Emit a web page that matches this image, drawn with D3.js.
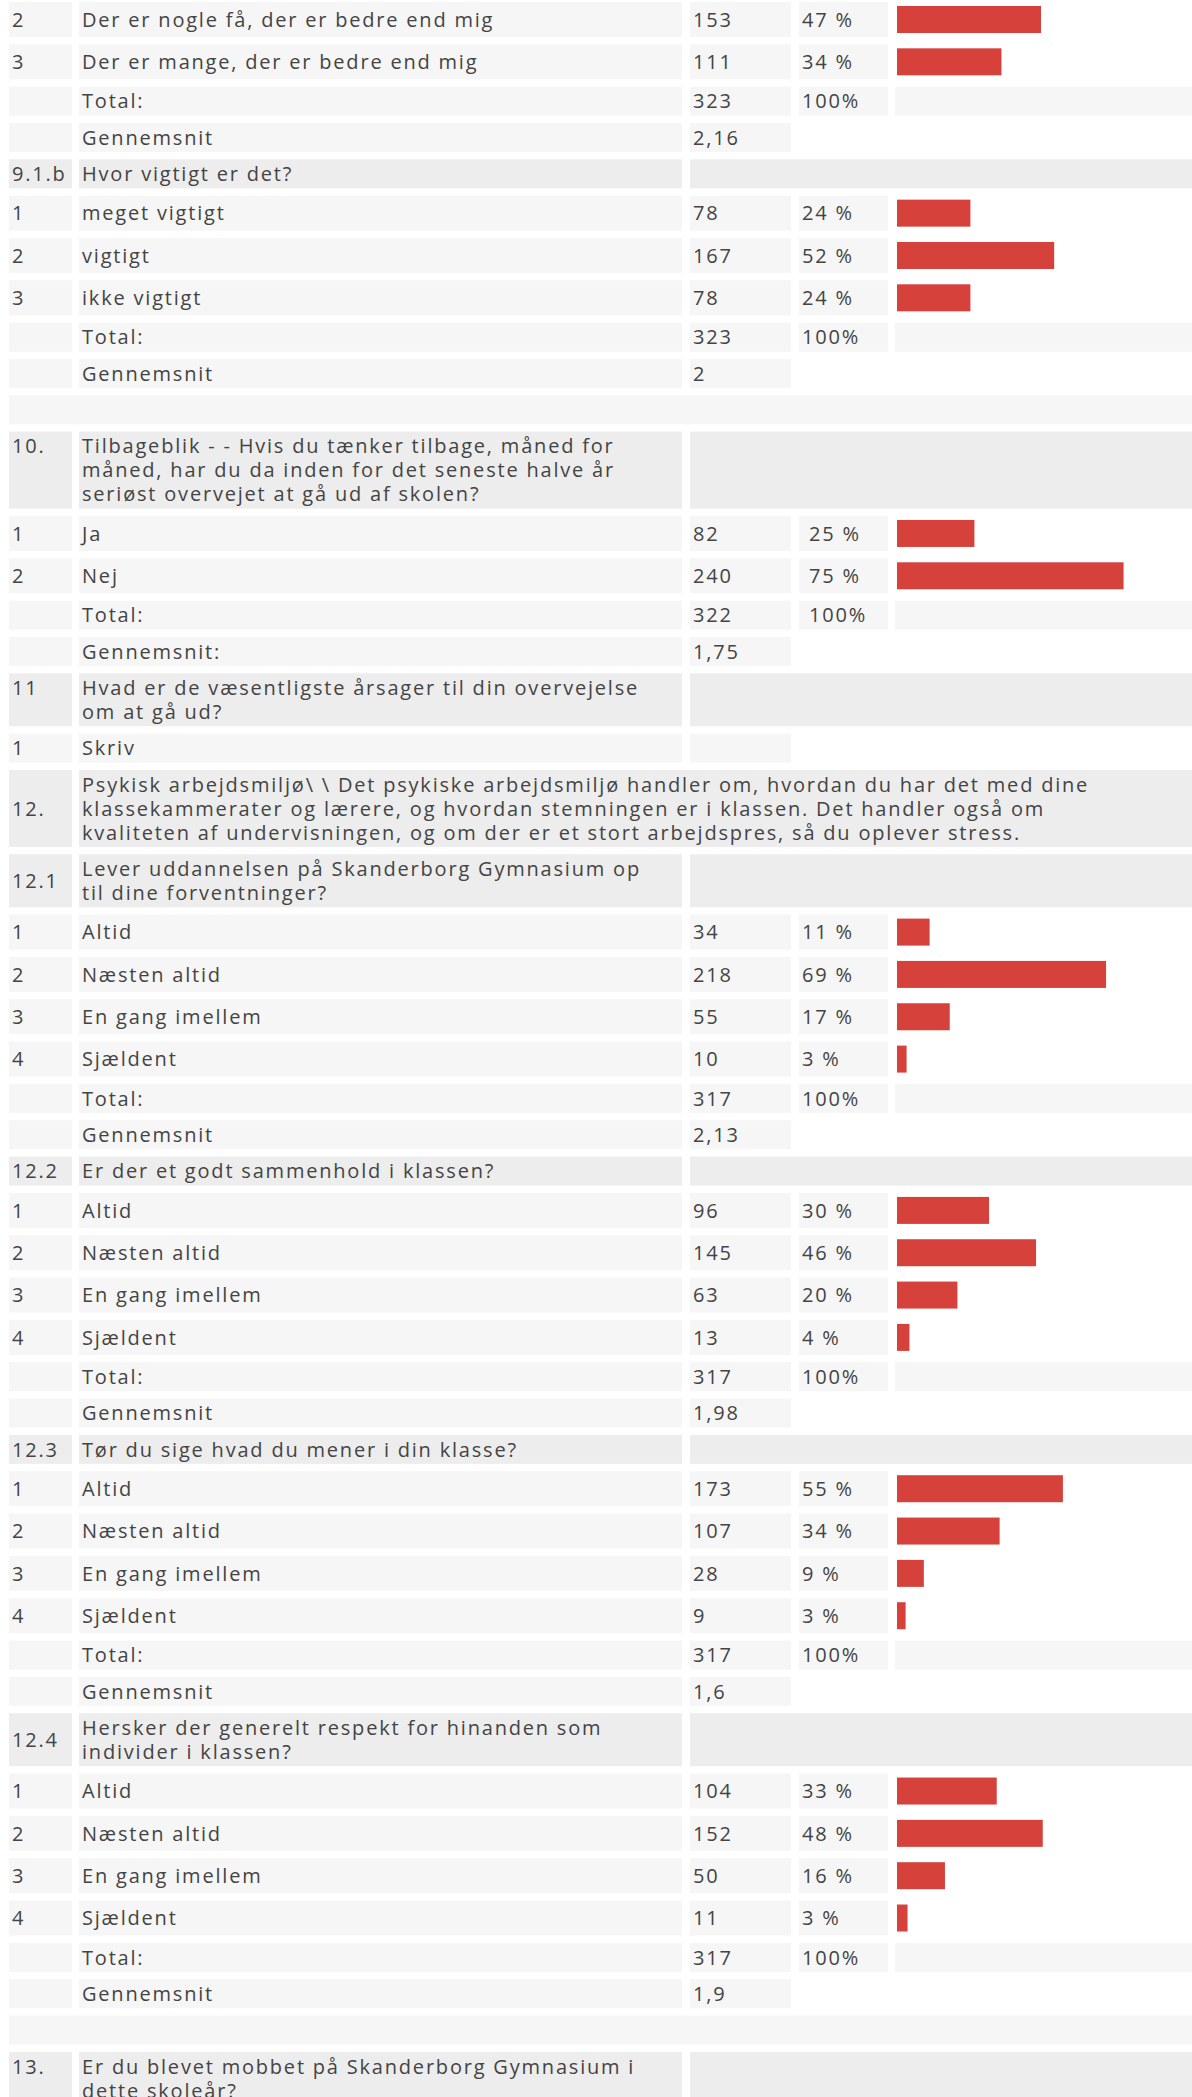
<!DOCTYPE html>
<html>
<head>
<meta charset="utf-8">
<script src="https://cdn.jsdelivr.net/npm/d3@7"></script>
<style>
  html, body { margin: 0; padding: 0; background: #fff; }
  svg { display: block; }
</style>
</head>
<body>
<div id="chart"></div>
<script>
/****** DATA ********/
// 9.1.a (tail, continues from previous page)
const q91aCodes = ["2", "3"];
const q91aLabels = ["Der er nogle få, der er bedre end mig", "Der er mange, der er bedre end mig"];
const q91aCounts = [153, 111];
const q91aPcts = [47, 34];
const q91aTotal = 323;
const q91aMean = "2,16";

// 9.1.b
const q91bText = ["Hvor vigtigt er det?"];
const q91bLabels = ["meget vigtigt", "vigtigt", "ikke vigtigt"];
const q91bCounts = [78, 167, 78];
const q91bPcts = [24, 52, 24];
const q91bTotal = 323;
const q91bMean = "2";

// 10.
const q10Text = ["Tilbageblik - - Hvis du tænker tilbage, måned for",
  "måned, har du da inden for det seneste halve år",
  "seriøst overvejet at gå ud af skolen?"];
const q10Labels = ["Ja", "Nej"];
const q10Counts = [82, 240];
const q10Pcts = [25, 75];
const q10Total = 322;
const q10Mean = "1,75";

// 11
const q11Text = ["Hvad er de væsentligste årsager til din overvejelse", "om at gå ud?"];
const q11Labels = ["Skriv"];

// 12.
const q12Text = ["Psykisk arbejdsmiljø\\ \\ Det psykiske arbejdsmiljø handler om, hvordan du har det med dine",
  "klassekammerater og lærere, og hvordan stemningen er i klassen. Det handler også om",
  "kvaliteten af undervisningen, og om der er et stort arbejdspres, så du oplever stress."];

// 12.1 - 12.4 share the same answer scale
const scale4Labels = ["Altid", "Næsten altid", "En gang imellem", "Sjældent"];
const q121Text = ["Lever uddannelsen på Skanderborg Gymnasium op", "til dine forventninger?"];
const q121Counts = [34, 218, 55, 10];
const q121Pcts = [11, 69, 17, 3];
const q121Mean = "2,13";
const q122Text = ["Er der et godt sammenhold i klassen?"];
const q122Counts = [96, 145, 63, 13];
const q122Pcts = [30, 46, 20, 4];
const q122Mean = "1,98";
const q123Text = ["Tør du sige hvad du mener i din klasse?"];
const q123Counts = [173, 107, 28, 9];
const q123Pcts = [55, 34, 9, 3];
const q123Mean = "1,6";
const q124Text = ["Hersker der generelt respekt for hinanden som", "individer i klassen?"];
const q124Counts = [104, 152, 50, 11];
const q124Pcts = [33, 48, 16, 3];
const q124Mean = "1,9";
const q12Total = 317;

// 13.
const q13Text = ["Er du blevet mobbet på Skanderborg Gymnasium i", "dette skoleår?"];

/****** SETTINGS ********/
const settings = {
  width: 1192,
  height: 2097,
  top: 2,
  gap: 7.33,
  barRow: 35,
  textRow: 29,
  lineStep: 24,
  font: "'Open Sans', sans-serif",
  fontSize: 20,
  spacing: 1.8,
  light: "#f6f6f6",
  dark: "#ededed",
  red: "#d6423b",
  ink: "#444"
};
// column edges [x0, x1]
const cols = { c1: [9, 72], c2: [79, 682], c3: [690, 791], c4: [799, 888], c5: [895, 1192] };
const barStart = 897;
const centeredIds = ["12.", "12.1", "12.4"];
const indentPctSections = ["10."];

/****** BUILD ROWS ********/
let rows = [];
let section = "";

const addHeader = function(id, lines, wide) {
  section = id;
  rows.push({ type: wide ? "wide" : "header", id: id, lines: lines, section: section });
}
const addBars = function(codes, labels, counts, pcts, total) {
  for (var i = 0; i < labels.length; i++) {
    rows.push({ type: "bar", code: codes[i], label: labels[i], count: counts[i],
      pct: pcts[i], frac: counts[i] / total, section: section });
  }
}
const addSummary = function(total, mean, meanLabel) {
  rows.push({ type: "total", label: "Total:", count: total, section: section });
  rows.push({ type: "mean", label: meanLabel || "Gennemsnit", value: mean, section: section });
}
const codesFor = labels => labels.map((d, i) => String(i + 1));

addBars(q91aCodes, q91aLabels, q91aCounts, q91aPcts, q91aTotal);
addSummary(q91aTotal, q91aMean);
addHeader("9.1.b", q91bText);
addBars(codesFor(q91bLabels), q91bLabels, q91bCounts, q91bPcts, q91bTotal);
addSummary(q91bTotal, q91bMean);
rows.push({ type: "spacer" });
addHeader("10.", q10Text);
addBars(codesFor(q10Labels), q10Labels, q10Counts, q10Pcts, q10Total);
addSummary(q10Total, q10Mean, "Gennemsnit:");
addHeader("11", q11Text);
rows.push({ type: "text", code: "1", label: q11Labels[0], section: section });
addHeader("12.", q12Text, true);
addHeader("12.1", q121Text);
addBars(codesFor(scale4Labels), scale4Labels, q121Counts, q121Pcts, q12Total);
addSummary(q12Total, q121Mean);
addHeader("12.2", q122Text);
addBars(codesFor(scale4Labels), scale4Labels, q122Counts, q122Pcts, q12Total);
addSummary(q12Total, q122Mean);
addHeader("12.3", q123Text);
addBars(codesFor(scale4Labels), scale4Labels, q123Counts, q123Pcts, q12Total);
addSummary(q12Total, q123Mean);
addHeader("12.4", q124Text);
addBars(codesFor(scale4Labels), scale4Labels, q124Counts, q124Pcts, q12Total);
addSummary(q12Total, q124Mean);
rows.push({ type: "spacer" });
addHeader("13.", q13Text);

// vertical layout
let y = settings.top;
rows.forEach(r => {
  if (r.type == "bar") r.h = settings.barRow;
  else if (r.lines) r.h = settings.textRow + settings.lineStep * (r.lines.length - 1);
  else r.h = settings.textRow;
  r.y = y;
  y += r.h + settings.gap;
});

/****** DRAW ********/
const svg = d3.select("#chart").append("svg")
  .attr("width", settings.width)
  .attr("height", settings.height);

const barScale = d3.scaleLinear().domain([0, 1]).range([0, 304]);

const cell = function(g, c, fill) {
  g.append("rect")
    .attr("x", c[0]).attr("y", 0)
    .attr("width", c[1] - c[0])
    .attr("height", d => d.h)
    .attr("fill", fill);
}

const label = function(g, x, txt, dy) {
  return g.append("text")
    .attr("x", x)
    .attr("y", dy)
    .attr("fill", settings.ink)
    .style("font-family", settings.font)
    .style("font-size", settings.fontSize + "px")
    .style("letter-spacing", settings.spacing + "px")
    .text(txt);
}

const base = settings.fontSize * 0.36;

const rowG = svg.selectAll("g.row")
  .data(rows)
  .join("g")
  .attr("class", d => "row " + d.type)
  .attr("transform", d => `translate(0,${d.y})`);

rowG.each(function(d) {
  const g = d3.select(this);
  const mid = d.h / 2 + base;
  const firstLine = settings.textRow / 2 + base;
  if (d.type == "spacer") {
    cell(g, [cols.c1[0], cols.c5[1]], settings.light);
    return;
  }
  if (d.type == "header" || d.type == "wide") {
    cell(g, cols.c1, settings.dark);
    if (d.type == "wide") {
      cell(g, [cols.c2[0], cols.c5[1]], settings.dark);
    } else {
      cell(g, cols.c2, settings.dark);
      cell(g, [cols.c3[0], cols.c5[1]], settings.dark);
    }
    label(g, cols.c1[0] + 3, d.id, centeredIds.includes(d.id) ? mid : firstLine);
    d.lines.forEach((ln, i) => {
      label(g, cols.c2[0] + 3, ln, firstLine + i * settings.lineStep);
    });
    return;
  }
  cell(g, cols.c1, settings.light);
  cell(g, cols.c2, settings.light);
  cell(g, cols.c3, settings.light);
  if (d.code) label(g, cols.c1[0] + 3, d.code, mid);
  label(g, cols.c2[0] + 3, d.label, mid);
  const pctX = cols.c4[0] + (indentPctSections.includes(d.section) ? 10 : 3);
  if (d.type == "bar") {
    cell(g, cols.c4, settings.light);
    label(g, cols.c3[0] + 3, d.count, mid);
    label(g, pctX, d.pct + " %", mid);
    g.append("rect")
      .attr("x", barStart)
      .attr("y", 4)
      .attr("width", barScale(d.frac))
      .attr("height", d.h - 8)
      .attr("fill", settings.red);
  } else if (d.type == "total") {
    cell(g, cols.c4, settings.light);
    cell(g, cols.c5, settings.light);
    label(g, cols.c3[0] + 3, d.count, mid);
    label(g, pctX, "100%", mid);
  } else if (d.type == "mean") {
    label(g, cols.c3[0] + 3, d.value, mid);
  }
});
</script>
</body>
</html>
